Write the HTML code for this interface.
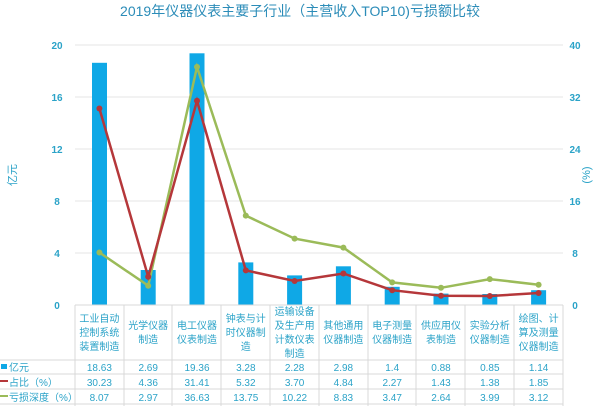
<!DOCTYPE html><html><head><meta charset="utf-8"><style>body{margin:0;background:#fff}svg{display:block}text{font-family:"Liberation Sans","Noto Sans CJK SC",sans-serif}</style></head><body>
<svg width="600" height="406" xmlns="http://www.w3.org/2000/svg">
<text x="300" y="16" text-anchor="middle" font-size="14" fill="#2B8CB8">2019年仪器仪表主要子行业（主营收入TOP10)亏损额比较</text>
<g stroke="#e4e4e4" stroke-width="1">
<line x1="75" y1="45" x2="563" y2="45"/><line x1="75" y1="97" x2="563" y2="97"/><line x1="75" y1="149" x2="563" y2="149"/><line x1="75" y1="201" x2="563" y2="201"/><line x1="75" y1="253" x2="563" y2="253"/>
</g>
<g font-size="10" fill="#2BA3C8" font-weight="bold" text-anchor="middle">
<text x="57" y="49">20</text><text x="57" y="101">16</text><text x="57" y="153">12</text><text x="57" y="205">8</text><text x="57" y="257">4</text><text x="57" y="309">0</text>
<text x="575" y="49">40</text><text x="575" y="101">32</text><text x="575" y="153">24</text><text x="575" y="205">16</text><text x="575" y="257">8</text><text x="575" y="309">0</text>
</g>
<text x="16" y="175" font-size="11" fill="#2BA3C8" transform="rotate(-90 16 175)" text-anchor="middle">亿元</text>
<text x="590" y="175" font-size="11" fill="#2BA3C8" transform="rotate(-90 590 175)" text-anchor="middle">(%)</text>
<g fill="#0FA8E6">
<rect x="92" y="62.8" width="15" height="242.2"/>
<rect x="140.7" y="270" width="15" height="35"/>
<rect x="189.5" y="53.3" width="15" height="251.7"/>
<rect x="238.3" y="262.4" width="15" height="42.6"/>
<rect x="287.1" y="275.4" width="15" height="29.6"/>
<rect x="335.9" y="266.3" width="15" height="38.7"/>
<rect x="384.7" y="286.8" width="15" height="18.2"/>
<rect x="433.5" y="293.6" width="15" height="11.4"/>
<rect x="482.3" y="294" width="15" height="11"/>
<rect x="531.1" y="290.2" width="15" height="14.8"/>
</g>
<polyline fill="none" stroke="#9BBB59" stroke-width="2.5" points="99.4,252.5 148.2,285.7 197,66.9 245.8,215.6 294.6,238.6 343.4,247.6 392.2,282.4 441,287.8 489.8,279.1 538.6,284.7"/>
<g fill="#9BBB59"><circle cx="99.4" cy="252.5" r="3"/><circle cx="148.2" cy="285.7" r="3"/><circle cx="197" cy="66.9" r="3"/><circle cx="245.8" cy="215.6" r="3"/><circle cx="294.6" cy="238.6" r="3"/><circle cx="343.4" cy="247.6" r="3"/><circle cx="392.2" cy="282.4" r="3"/><circle cx="441" cy="287.8" r="3"/><circle cx="489.8" cy="279.1" r="3"/><circle cx="538.6" cy="284.7" r="3"/></g>
<polyline fill="none" stroke="#B5373A" stroke-width="2.5" points="99.4,108.5 148.2,276.7 197,100.8 245.8,270.4 294.6,281 343.4,273.5 392.2,290.2 441,295.7 489.8,296 538.6,293"/>
<g fill="#B5373A"><circle cx="99.4" cy="108.5" r="3"/><circle cx="148.2" cy="276.7" r="3"/><circle cx="197" cy="100.8" r="3"/><circle cx="245.8" cy="270.4" r="3"/><circle cx="294.6" cy="281" r="3"/><circle cx="343.4" cy="273.5" r="3"/><circle cx="392.2" cy="290.2" r="3"/><circle cx="441" cy="295.7" r="3"/><circle cx="489.8" cy="296" r="3"/><circle cx="538.6" cy="293" r="3"/></g>
<g stroke="#d8d8d8" stroke-width="1">
<line x1="75" y1="305" x2="563" y2="305"/>
<line x1="0" y1="360" x2="563" y2="360"/><line x1="0" y1="374" x2="563" y2="374"/><line x1="0" y1="389" x2="563" y2="389"/><line x1="0" y1="404" x2="563" y2="404"/>
<line x1="75" y1="305" x2="75" y2="406"/><line x1="124" y1="305" x2="124" y2="406"/><line x1="172" y1="305" x2="172" y2="406"/><line x1="221" y1="305" x2="221" y2="406"/><line x1="270" y1="305" x2="270" y2="406"/><line x1="319" y1="305" x2="319" y2="406"/><line x1="368" y1="305" x2="368" y2="406"/><line x1="416" y1="305" x2="416" y2="406"/><line x1="465" y1="305" x2="465" y2="406"/><line x1="514" y1="305" x2="514" y2="406"/><line x1="563" y1="305" x2="563" y2="406"/>
</g>
<g font-size="10" fill="#2BA3C8" text-anchor="middle">
<text x="99.4" y="322">工业自动</text><text x="99.4" y="336">控制系统</text><text x="99.4" y="350">装置制造</text>
<text x="148.2" y="329">光学仪器</text><text x="148.2" y="343">制造</text>
<text x="197" y="329">电工仪器</text><text x="197" y="343">仪表制造</text>
<text x="245.8" y="322">钟表与计</text><text x="245.8" y="336">时仪器制</text><text x="245.8" y="350">造</text>
<text x="294.6" y="315">运输设备</text><text x="294.6" y="329">及生产用</text><text x="294.6" y="343">计数仪表</text><text x="294.6" y="357">制造</text>
<text x="343.4" y="329">其他通用</text><text x="343.4" y="343">仪器制造</text>
<text x="392.2" y="329">电子测量</text><text x="392.2" y="343">仪器制造</text>
<text x="441" y="329">供应用仪</text><text x="441" y="343">表制造</text>
<text x="489.8" y="329">实验分析</text><text x="489.8" y="343">仪器制造</text>
<text x="538.6" y="322">绘图、计</text><text x="538.6" y="336">算及测量</text><text x="538.6" y="350">仪器制造</text>
</g>
<g font-size="10" fill="#2BA3C8" text-anchor="middle">
<text x="99.4" y="371">18.63</text><text x="148.2" y="371">2.69</text><text x="197" y="371">19.36</text><text x="245.8" y="371">3.28</text><text x="294.6" y="371">2.28</text><text x="343.4" y="371">2.98</text><text x="392.2" y="371">1.4</text><text x="441" y="371">0.88</text><text x="489.8" y="371">0.85</text><text x="538.6" y="371">1.14</text>
<text x="99.4" y="386">30.23</text><text x="148.2" y="386">4.36</text><text x="197" y="386">31.41</text><text x="245.8" y="386">5.32</text><text x="294.6" y="386">3.70</text><text x="343.4" y="386">4.84</text><text x="392.2" y="386">2.27</text><text x="441" y="386">1.43</text><text x="489.8" y="386">1.38</text><text x="538.6" y="386">1.85</text>
<text x="99.4" y="401">8.07</text><text x="148.2" y="401">2.97</text><text x="197" y="401">36.63</text><text x="245.8" y="401">13.75</text><text x="294.6" y="401">10.22</text><text x="343.4" y="401">8.83</text><text x="392.2" y="401">3.47</text><text x="441" y="401">2.64</text><text x="489.8" y="401">3.99</text><text x="538.6" y="401">3.12</text>
</g>
<rect x="1" y="364" width="6" height="5" fill="#0FA8E6"/>
<line x1="0" y1="381" x2="8" y2="381" stroke="#B5373A" stroke-width="2"/>
<line x1="0" y1="396" x2="8" y2="396" stroke="#9BBB59" stroke-width="2"/>
<g font-size="10" fill="#2BA3C8"><text x="9" y="371">亿元</text><text x="9" y="386">占比（%）</text><text x="9" y="401">亏损深度（%）</text></g>
</svg></body></html>
